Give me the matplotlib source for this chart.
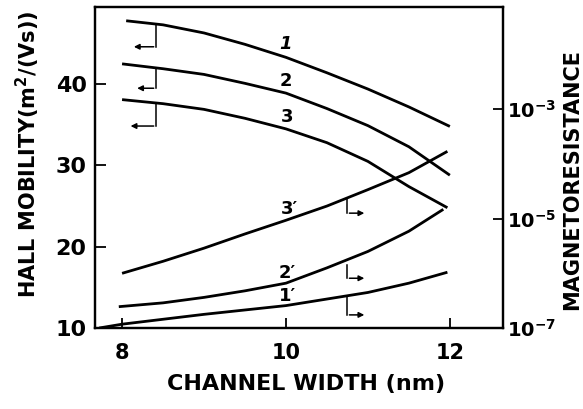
import numpy as np
import matplotlib as mpl
mpl.use('agg')
import matplotlib.pyplot as plt

plt.rcParams['font.family'] = ['DejaVu Sans']
plt.rcParams['font.weight'] = 'bold'
plt.rcParams['axes.labelweight'] = 'bold'
plt.rcParams['mathtext.default'] = 'bf'

## Hall mobility curves (left axis, m^2/(Vs))
w1 = [8.05, 8.5, 9.0, 9.5, 10.0, 10.5, 11.0, 11.5, 12.0]
mu1 = [47.8, 47.3, 46.3, 44.9, 43.3, 41.4, 39.4, 37.2, 34.8]
w2 = [8.0, 8.5, 9.0, 9.5, 10.0, 10.5, 11.0, 11.5, 12.0]
mu2 = [42.5, 41.9, 41.2, 40.1, 38.9, 37.0, 34.9, 32.3, 28.8]
w3 = [8.0, 8.5, 9.0, 9.5, 10.0, 10.5, 11.0, 11.5, 11.97]
mu3 = [38.1, 37.6, 36.9, 35.8, 34.5, 32.8, 30.5, 27.4, 24.8]

## magnetoresistance curves (right axis), given as log10 of the value
w3p = [8.0, 8.5, 9.0, 9.5, 10.0, 10.5, 11.0, 11.5, 11.97]
mr3p = [-6.00, -5.78, -5.54, -5.28, -5.03, -4.77, -4.47, -4.16, -3.77]
w2p = [7.96, 8.5, 9.0, 9.5, 10.0, 10.5, 11.0, 11.5, 11.92]
mr2p = [-6.61, -6.54, -6.44, -6.32, -6.18, -5.90, -5.60, -5.23, -4.83]
w1p = [7.72, 8.0, 8.5, 9.0, 9.5, 10.0, 10.5, 11.0, 11.5, 11.97]
mr1p = [-7.0, -6.93, -6.84, -6.75, -6.67, -6.59, -6.47, -6.35, -6.18, -5.98]

xticks = [8, 10, 12]
yticks = [10, 20, 30, 40]
rticks = [1e-7, 1e-5, 1e-3]
rticklabels = ['$10^{-7}$', '$10^{-5}$', '$10^{-3}$']

fig = plt.figure(figsize=(5.83, 4.09), dpi=100)
ax = fig.add_axes([0.163, 0.198, 0.700, 0.785])
ax2 = ax.twinx()

lw = 2.0
style = dict(color='black', lw=lw, solid_joinstyle='round', solid_capstyle='butt')
ax.plot(w1, mu1, **style)
ax.plot(w2, mu2, **style)
ax.plot(w3, mu3, **style)
ax2.plot(w3p, 10 ** np.array(mr3p), **style)
ax2.plot(w2p, 10 ** np.array(mr2p), **style)
ax2.plot(w1p, 10 ** np.array(mr1p), **style)

ax.set_xlim(7.67, 12.65)
ax.set_ylim(10, 49.5)
ax2.set_yscale('log')
ax2.set_ylim(1e-7, 10 ** -1.13)

ax.set_xticks(xticks)
ax.set_yticks(yticks)
ax2.set_yticks(rticks)
ax2.set_yticklabels(rticklabels)
ax2.minorticks_off()

ax.tick_params(axis='x', direction='in', length=7, width=1.3, labelsize=15, pad=11)
ax.tick_params(axis='y', direction='in', length=8, width=1.3, labelsize=16, pad=6)
ax2.tick_params(axis='y', direction='in', length=7, width=1.3, labelsize=14, pad=3)
for a in (ax, ax2):
    for s in a.spines.values():
        s.set_linewidth(1.6)

ax.set_xlabel('CHANNEL WIDTH (nm)', fontsize=16)
ax.xaxis.set_label_coords(0.516, -0.142)
ax.set_ylabel('HALL MOBILITY(m$^2$/(Vs))', fontsize=15)
ax.yaxis.set_label_coords(-0.13, 0.54)
ax2.set_ylabel('MAGNETORESISTANCE', fontsize=15)
ax2.yaxis.set_label_coords(1.145, 0.464)

# curve labels
ax.text(10.0, 44.9, '1', fontsize=13, style='italic', ha='center', va='center')
ax.text(10.0, 40.4, '2', fontsize=13, ha='center', va='center')
ax.text(10.01, 35.9, '3', fontsize=13, ha='center', va='center')
ax.text(10.04, 24.6, '3\u2032', fontsize=13, ha='center', va='center')
ax.text(10.02, 16.8, '2\u2032', fontsize=13, ha='center', va='center')
ax.text(10.02, 13.9, '1\u2032', fontsize=13, ha='center', va='center')

# bracket arrows: mobility curves point left, magnetoresistance curves point right
arr = dict(arrowstyle='-|>', color='black', lw=1.1, mutation_scale=8)
for ytop, ybot, xtip in [(47.3, 44.6, 8.11), (41.9, 39.5, 8.15), (37.6, 34.85, 8.07)]:
    ax.plot([8.42, 8.42], [ytop, ybot], color='black', lw=1.1)
    ax.annotate('', xy=(xtip, ybot), xytext=(8.42, ybot), arrowprops=arr)
for ytop, ybot in [(-4.64, -4.90), (-5.85, -6.09), (-6.44, -6.76)]:
    ax2.plot([10.74, 10.74], [10 ** ytop, 10 ** ybot], color='black', lw=1.1)
    ax2.annotate('', xy=(10.99, 10 ** ybot), xytext=(10.74, 10 ** ybot), arrowprops=arr)

fig.savefig('out.png', dpi=100)
